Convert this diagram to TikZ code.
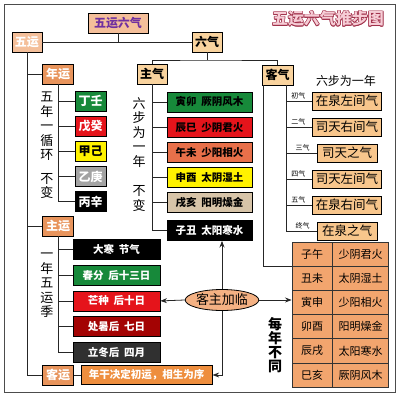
\documentclass[tikz,border=0pt]{standalone}
\usepackage{fontspec}
\setmainfont{Noto Sans CJK SC}
\usepackage{xcolor}
\usepackage{tikz}
\usetikzlibrary{shapes,arrows.meta,positioning}

\definecolor{wupeach}{HTML}{F4BF9A}
\definecolor{qipeach}{HTML}{F9D39E}
\definecolor{yunorange}{HTML}{E8945C}
\definecolor{kepeach}{HTML}{F8C68C}
\definecolor{tablefill}{HTML}{F2A56E}
\definecolor{barorange}{HTML}{EE8E3E}
\definecolor{ellfill}{HTML}{F4B183}
\definecolor{titlepurple}{HTML}{7030A0}
\definecolor{ganGreen}{HTML}{17893A}
\definecolor{ganRed}{HTML}{E5141B}
\definecolor{ganGray}{HTML}{A3A3A3}
\definecolor{qiCoral}{HTML}{E8704A}
\definecolor{qiTan}{HTML}{D7C4A8}
\definecolor{darkRed}{HTML}{A30303}
\definecolor{darkGray}{HTML}{303030}
\definecolor{titleline}{HTML}{A0304A}
\definecolor{titlefill}{HTML}{F6CDD6}

\newcommand{\gap}{\hspace{0.45em}}

\tikzset{
  box/.style={draw=black, line width=0.7pt, inner sep=0pt, minimum height=20pt, font=\bfseries\fontsize{12}{12}\selectfont},
  headbox/.style={box, fill=qipeach, minimum width=30pt},
  yunbox/.style={box, fill=yunorange, text=white, minimum width=31pt},
  ganbox/.style={box, minimum width=31pt, text=white},
  qibox/.style={box, minimum width=85pt, font=\bfseries\fontsize{10.5}{10.5}\selectfont},
  jibox/.style={box, minimum width=87pt, text=white, font=\bfseries\fontsize{10.5}{10.5}\selectfont},
  kebox/.style={box, fill=kepeach, minimum width=60pt, minimum height=18pt, inner xsep=3pt, line width=1pt, font=\fontsize{12.5}{12.5}\selectfont},
  cell/.style={draw=black!80, line width=0.7pt, fill=tablefill, minimum height=24.2pt, inner sep=0pt, font=\fontsize{11}{11}\selectfont},
  steplabel/.style={font=\fontsize{7}{7}\selectfont, inner sep=0.5pt, anchor=south},
  vtext/.style={align=center, inner sep=0pt, anchor=north, font=\fontsize{13}{14.5}\selectfont},
  titletext/.style={inner sep=0pt, font=\bfseries\fontsize{16}{16}\selectfont},
  link/.style={line width=0.8pt, draw=black!85},
}

\begin{document}
\begin{tikzpicture}[x=1pt, y=-1pt, >=Stealth, node distance=4.5pt]
  \useasboundingbox (0,0) rectangle (400,400);
  \draw[draw=black!70, line width=0.8pt] (4,4) rectangle (395,392);

  % title
  \foreach \dx/\dy [count=\i] in {-0.7/0,0.7/0,0/-0.7,0/0.7,-0.5/-0.5,0.5/0.5,-0.5/0.5,0.5/-0.5}
    \node[titletext, text=titleline] (title-\i) at (328+\dx,19+\dy) {五运六气推步图};
  \node[titletext, text=titlefill] (title) at (328,19) {五运六气推步图};

  % top level
  \node[box, fill=wupeach, text=titlepurple, minimum width=60pt] (wy6q) at (118,23) {五运六气};
  \node[box, fill=wupeach, text=white, minimum width=30pt] (wuyun) at (27,42) {五运};
  \node[headbox] (liuqi) at (207,42) {六气};
  \node[headbox] (zhuqi) at (152,74) {主气};
  \node[headbox, minimum width=31pt] (keqi) at (277.5,75) {客气};
  \draw[link] (wuyun) -- (liuqi);
  \draw[link] (wy6q.south) -- (wy6q.south |- wuyun.east);
  \coordinate (qifork) at (207,60);
  \draw[link] (liuqi.south) -- (qifork);
  \draw[link] (zhuqi.north) |- (qifork) -| (keqi.north);

  % wu yun trunk
  \node[yunbox] (nianyun) at (58,74) {年运};
  \node[yunbox] (zhuyun) at (58,226) {主运};
  \node[yunbox] (keyun) at (58,375) {客运};
  \draw[link] (wuyun.south) |- (keyun.west);
  \draw[link] (wuyun.south |- nianyun.west) -- (nianyun.west);
  \draw[link] (wuyun.south |- zhuyun.west) -- (zhuyun.west);

  % nian yun
  \node[vtext] (nianyun-note) at (47,92) {五\\年\\一\\循\\环\\[9pt]不\\变};
  \node[ganbox, fill=ganGreen] (dingren) at (90.5,101) {丁壬};
  \node[ganbox, fill=ganRed, below=of dingren] (wugui) {戊癸};
  \node[ganbox, fill=yellow, text=black, below=of wugui] (jiaji) {甲己};
  \node[ganbox, fill=ganGray, below=of jiaji] (yigeng) {乙庚};
  \node[ganbox, fill=black, below=of yigeng] (bingxin) {丙辛};
  \draw[link] (nianyun.south) |- (bingxin.west);
  \foreach \n in {dingren,wugui,jiaji,yigeng}
    \draw[link] (nianyun.south |- \n.west) -- (\n.west);

  % zhu qi
  \node[vtext] (zhuqi-note) at (139,97) {六\\步\\为\\一\\年\\[15pt]不\\变};
  \node[qibox, fill=ganGreen] (yinmao) at (209.5,102) {寅卯\gap 厥阴风木};
  \node[qibox, fill=ganRed, below=of yinmao] (chensi) {辰巳\gap 少阴君火};
  \node[qibox, fill=qiCoral, below=of chensi] (wuwei) {午未\gap 少阳相火};
  \node[qibox, fill=yellow, below=of wuwei] (shenyou) {申酉\gap 太阴湿土};
  \node[qibox, fill=qiTan, below=of shenyou] (xuhai) {戌亥\gap 阳明燥金};
  \node[qibox, fill=black, text=white, below=7pt of xuhai] (zichou) {子丑\gap 太阳寒水};
  \draw[link] (zhuqi.south) |- (zichou.west);
  \foreach \n in {yinmao,chensi,wuwei,shenyou,xuhai}
    \draw[link] (zhuqi.south |- \n.west) -- (\n.west);

  % ke qi
  \node[font=\fontsize{12}{12}\selectfont, inner sep=0pt] (keqi-note) at (346,81) {六步为一年};
  \node[kebox] (kq1) at (347,101) {在泉左间气};
  \node[kebox, below=7pt of kq1] (kq2) {司天右间气};
  \node[kebox, below=7pt of kq2] (kq3) {司天之气};
  \node[kebox, below=7pt of kq3] (kq4) {司天左间气};
  \node[kebox, below=7pt of kq4] (kq5) {在泉右间气};
  \node[kebox, below=7pt of kq5] (kq6) {在泉之气};
  \coordinate (kqtrunk) at ([xshift=8.5pt]keqi.south);
  \draw[link] (kqtrunk) |- (kq6.west);
  \foreach \n/\t in {kq1/初气,kq2/二气,kq3/三气,kq4/四气,kq5/五气,kq6/终气} {
    \draw[link] (kqtrunk |- \n.west) -- (\n.west);
    \node[steplabel] (\n-lab) at ([shift={(-14pt,1.5pt)}]\n.west) {\t};
  }

  % table
  \foreach \z/\q [count=\i] in {子午/少阴君火,丑未/太阴湿土,寅申/少阳相火,卯酉/阳明燥金,辰戌/太阳寒水,巳亥/厥阴风木} {
    \node[cell, minimum width=40pt] (zhi\i) at (312,229.9+24.2*\i) {\z};
    \node[cell, minimum width=56pt, right=0pt of zhi\i] (hua\i) {\q};
  }
  \draw[link] ([xshift=2pt]keqi.south west) |- (zhi1.south west);
  \node[vtext, font=\bfseries\fontsize{14}{14}\selectfont] (meinian-note) at (275,317) {每\\年\\不\\同};

  % zhu yun
  \node[vtext] (zhuyun-note) at (47,253) {一\\年\\五\\运\\季};
  \node[jibox, fill=black] (dahan) at (116.5,249.5) {大寒\gap 节气};
  \node[jibox, fill=ganGreen, below=5pt of dahan] (chunfen) {春分\gap 后十三日};
  \node[jibox, fill=ganRed, below=5pt of chunfen] (mangzhong) {芒种\gap 后十日};
  \node[jibox, fill=darkRed, below=5pt of mangzhong] (chushu) {处暑后\gap 七日};
  \node[jibox, fill=darkGray, below=5pt of chushu] (lidong) {立冬后\gap 四月};
  \draw[link] (zhuyun.south) |- (lidong.west);
  \foreach \n in {dahan,chunfen,mangzhong,chushu}
    \draw[link] (zhuyun.south |- \n.west) -- (\n.west);

  % ke yun
  \node[box, fill=barorange, text=white, minimum width=131pt, minimum height=19pt, font=\bfseries\fontsize{10.5}{10.5}\selectfont, right=7pt of keyun] (jueding) {年干决定初运，相生为序};
  \draw[link] (keyun) -- (jueding);

  % ke zhu jia lin
  \node[draw, ellipse, fill=ellfill, line width=0.8pt, minimum width=70pt, minimum height=21pt, inner sep=0pt, font=\fontsize{13}{13}\selectfont] (jialin) at (222,300) {客主加临};
  \draw[link, ->] (jialin.west) -- (mangzhong.east);
  \draw[link, ->] (jialin.north) -- (jialin.north |- zichou.south);
  \draw[link, ->] (jialin.east) -- (jialin.east -| zhi3.west);
  \draw[link, ->] (jialin.south) |- (jueding.east);
\end{tikzpicture}
\end{document}
